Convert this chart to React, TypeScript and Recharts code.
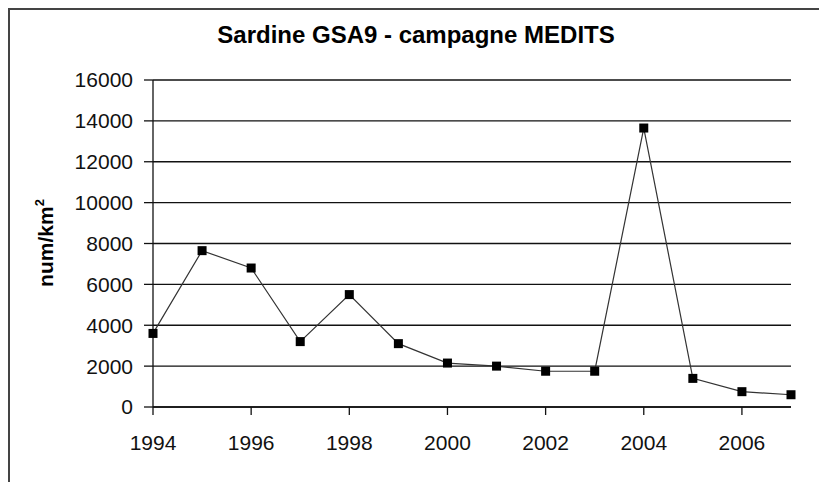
import React from "react";
import { LineChart, Line, XAxis, YAxis, CartesianGrid } from "recharts";

const years = [1994, 1995, 1996, 1997, 1998, 1999, 2000, 2001, 2002, 2003, 2004, 2005, 2006, 2007];
const density = [3600, 7650, 6800, 3200, 5500, 3100, 2150, 2000, 1750, 1750, 13650, 1400, 750, 600];
const xTicks = [1994, 1996, 1998, 2000, 2002, 2004, 2006];
const yTicks = [0, 2000, 4000, 6000, 8000, 10000, 12000, 14000, 16000];
const title = "Sardine GSA9 - campagne MEDITS";
const yLabel = "num/km";

const data = years.map((y, i) => ({ year: y, value: density[i] }));

const FONT = "'Liberation Sans', Arial, sans-serif";

const SquareDot = (props: any) => {
  const { cx, cy, index } = props;
  if (cx == null || cy == null) return null;
  return <rect key={`d-${index}`} x={cx - 4.5} y={cy - 4.5} width={9} height={9} fill="#000" />;
};

const YLabel = () => (
  <text
    x={0}
    y={0}
    transform="translate(45, 235) rotate(-90)"
    textAnchor="middle"
    fontFamily={FONT}
    fontWeight="bold"
    fontSize={21}
    fill="#000"
  >
    {yLabel}
    <tspan dy={-9} fontSize={13}>2</tspan>
  </text>
);

export default function App() {
  return (
    <div style={{ position: "relative", width: 811, height: 474, background: "#fff" }}>
      <div style={{ position: "absolute", left: 0, top: 0, width: 819, height: 2, background: "#444", zIndex: 2 }} />
      <div style={{ position: "absolute", left: 0, top: 0, width: 2, height: 482, background: "#444", zIndex: 2 }} />
      <div
        style={{
          position: "absolute",
          left: -2,
          width: 820,
          top: 13,
          textAlign: "center",
          fontFamily: FONT,
          fontWeight: "bold",
          fontSize: 24,
          color: "#000",
        }}
      >
        {title}
      </div>
      <div style={{ position: "absolute", left: 0, top: 0 }}>
        <LineChart
          width={811}
          height={472}
          data={data}
          margin={{ top: 72, right: 28, bottom: 0, left: 0 }}
        >
          <CartesianGrid vertical={false} stroke="#111" strokeWidth={1.3} />
          <XAxis
            dataKey="year"
            type="number"
            domain={[1994, 2007]}
            ticks={xTicks}
            interval={0}
            height={73}
            tickSize={8}
            tickMargin={20}
            axisLine={{ stroke: "#111", strokeWidth: 1.3 }}
            tickLine={{ stroke: "#111", strokeWidth: 1.3 }}
            tick={{ fill: "#111", fontSize: 21, fontFamily: FONT }}
          />
          <YAxis
            domain={[0, 16000]}
            ticks={yTicks}
            interval={0}
            width={145}
            tickSize={9}
            tickMargin={11}
            axisLine={{ stroke: "#111", strokeWidth: 1.3 }}
            tickLine={{ stroke: "#111", strokeWidth: 1.3 }}
            tick={{ fill: "#111", fontSize: 21, fontFamily: FONT }}
            label={{ content: () => <YLabel /> }}
          />
          <Line
            type="linear"
            dataKey="value"
            stroke="#333"
            strokeWidth={1.2}
            dot={SquareDot}
            activeDot={false}
            isAnimationActive={false}
          />
        </LineChart>
      </div>
    </div>
  );
}
